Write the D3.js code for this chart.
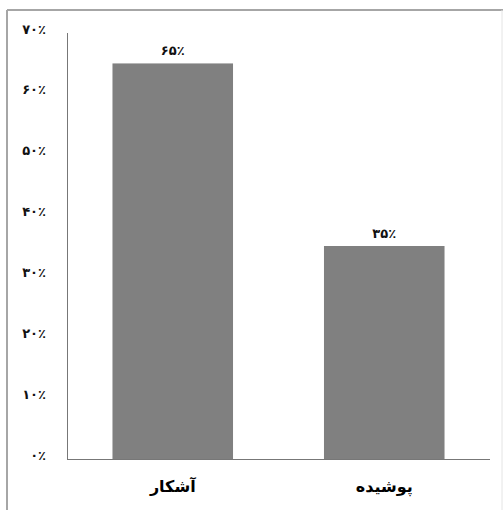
<!DOCTYPE html>
<html><head><meta charset="utf-8">
<script src="https://cdn.jsdelivr.net/npm/d3@7"></script>
<style>body{margin:0;background:#fff}svg{display:block}</style>
</head><body>
<script>
const categories = ["آشکار", "پوشیده"];
const values = [65, 35];
const yTicks = [0, 10, 20, 30, 40, 50, 60, 70];

const W = 503, H = 510;
const toFa = n => String(n).replace(/\d/g, d => "۰۱۲۳۴۵۶۷۸۹"[d]) + "٪";
const svg = d3.select("body").append("svg").attr("width", W).attr("height", H);
const font = "'DejaVu Sans', sans-serif";

// outer frame
svg.append("line").attr("x1", 7).attr("x2", W).attr("y1", 10).attr("y2", 10).attr("stroke", "#a6a6a6").attr("stroke-width", 2);
svg.append("line").attr("x1", 7).attr("x2", 7).attr("y1", 10).attr("y2", H).attr("stroke", "#a6a6a6").attr("stroke-width", 2);
svg.append("line").attr("x1", 502).attr("x2", 502).attr("y1", 10).attr("y2", H).attr("stroke", "#e4e4e4").attr("stroke-width", 1);

const x = d3.scaleBand().domain(categories).range([67, 490]).paddingInner(0.43).paddingOuter(0.215);
const y = d3.scaleLinear().domain([0, 70]).range([459, 33]);

// bars
svg.selectAll("rect.bar").data(values).join("rect").attr("class", "bar")
  .attr("x", (d, i) => x(categories[i])).attr("width", x.bandwidth())
  .attr("y", d => y(d)).attr("height", d => y(0) - y(d))
  .attr("fill", "#808080");

// axes lines
svg.append("line").attr("x1", 67.5).attr("x2", 67.5).attr("y1", y(70)).attr("y2", y(0)).attr("stroke", "#777");
svg.append("line").attr("x1", 67).attr("x2", 490).attr("y1", y(0) + 0.5).attr("y2", y(0) + 0.5).attr("stroke", "#777");

// y tick labels
svg.selectAll("text.yt").data(yTicks).join("text").attr("class", "yt")
  .attr("x", 46).attr("y", d => y(d) - 4).attr("dy", "0.35em")
  .attr("text-anchor", "end").attr("font-family", font).attr("font-weight", "bold")
  .attr("font-size", 13).attr("fill", "#111").text(d => toFa(d));

// value labels
svg.selectAll("text.vl").data(values).join("text").attr("class", "vl")
  .attr("x", (d, i) => x(categories[i]) + x.bandwidth() / 2).attr("y", d => y(d) - 13).attr("dy", "0.35em")
  .attr("text-anchor", "middle").attr("font-family", font).attr("font-weight", "bold")
  .attr("font-size", 13).attr("fill", "#111").text(d => toFa(d));

// category labels
svg.selectAll("text.cl").data(categories).join("text").attr("class", "cl")
  .attr("x", d => x(d) + x.bandwidth() / 2).attr("y", 486).attr("dy", "0.35em")
  .attr("text-anchor", "middle").attr("font-family", font).attr("font-weight", "bold")
  .attr("font-size", 16).attr("fill", "#000").text(d => d);
</script>
</body></html>
